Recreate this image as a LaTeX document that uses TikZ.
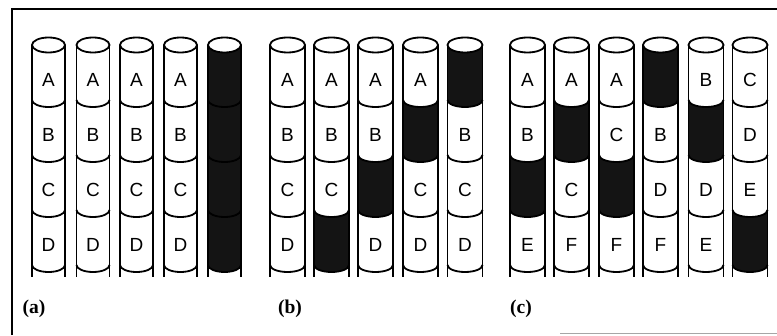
\documentclass[tikz,border=0pt]{standalone}
\usepackage{fontspec}
\setmainfont{Liberation Serif}
\newfontfamily\hv{Liberation Sans}
\tikzset{
  cylline/.style={line width=1.8pt, black},
  darkfill/.style={fill=black!92},
  lettr/.style={font=\hv\fontsize{19}{21}\selectfont, inner sep=0pt},
  panellabel/.style={font=\bfseries\fontsize{19.5}{22}\selectfont, inner sep=0pt},
  framerule/.style={line width=1.8pt, black}
}
% #1 name, #2 x centre, #3 half width, #4 list of four labels (* = shaded)
\newcommand\drawcyl[4]{%
  \foreach \lab [count=\k] in {#4} {
    \pgfmathsetmacro\ytop{290-55*(\k-1)}
    \pgfmathsetmacro\ybot{290-55*\k}
    \if\lab*
      \fill[darkfill] (#2-#3,\ytop) arc[start angle=180,end angle=360,x radius=#3,y radius=7]
        -- (#2+#3,\ybot) arc[start angle=0,end angle=-180,x radius=#3,y radius=7] -- cycle;
    \else
      \node[lettr] (#1-\k) at (#2,\ytop-34.5) {\lab};
    \fi
  }
  \draw[cylline] (#2-#3,290) -- (#2-#3,58) (#2+#3,290) -- (#2+#3,58);
  \foreach \j in {1,...,4}
    \draw[cylline] (#2-#3,290-55*\j) arc[start angle=180,end angle=360,x radius=#3,y radius=7];
  \draw[cylline, fill=white] (#2,290) ellipse[x radius=#3, y radius=7.5];
}
\begin{document}
\begin{tikzpicture}[x=1pt,y=1pt]
\useasboundingbox (0,0) rectangle (777,335);
\fill[white] (0,0) rectangle (777,335);
% frame
\draw[framerule] (12,0) -- (12,326) -- (777,326);
\draw[line width=0.8pt, black!35] (560,2) -- (777,2);
% (a)
\drawcyl{a1}{48.5}{16.5}{A,B,C,D}
\drawcyl{a2}{93}{16.5}{A,B,C,D}
\drawcyl{a3}{136.5}{16.5}{A,B,C,D}
\drawcyl{a4}{180.5}{16.5}{A,B,C,D}
\drawcyl{a5}{224.5}{16.5}{*,*,*,*}
% (b)
\drawcyl{b1}{287.5}{17.5}{A,B,C,D}
\drawcyl{b2}{331.5}{17.5}{A,B,C,*}
\drawcyl{b3}{375.5}{17.5}{A,B,*,D}
\drawcyl{b4}{420.5}{17.5}{A,*,C,D}
\drawcyl{b5}{465}{17.5}{*,B,C,D}
% (c)
\drawcyl{c1}{527.5}{17.5}{A,B,*,E}
\drawcyl{c2}{571.5}{17.5}{A,*,C,F}
\drawcyl{c3}{616.5}{17.5}{A,C,*,F}
\drawcyl{c4}{660.5}{17.5}{*,B,D,F}
\drawcyl{c5}{706}{17.5}{B,*,D,E}
\drawcyl{c6}{750}{17.5}{C,D,E,*}
% panel labels
\node[panellabel] (la) at (34,26) {(a)};
\node[panellabel] (lb) at (290,26) {(b)};
\node[panellabel] (lc) at (521,26) {(c)};
\end{tikzpicture}
\end{document}
